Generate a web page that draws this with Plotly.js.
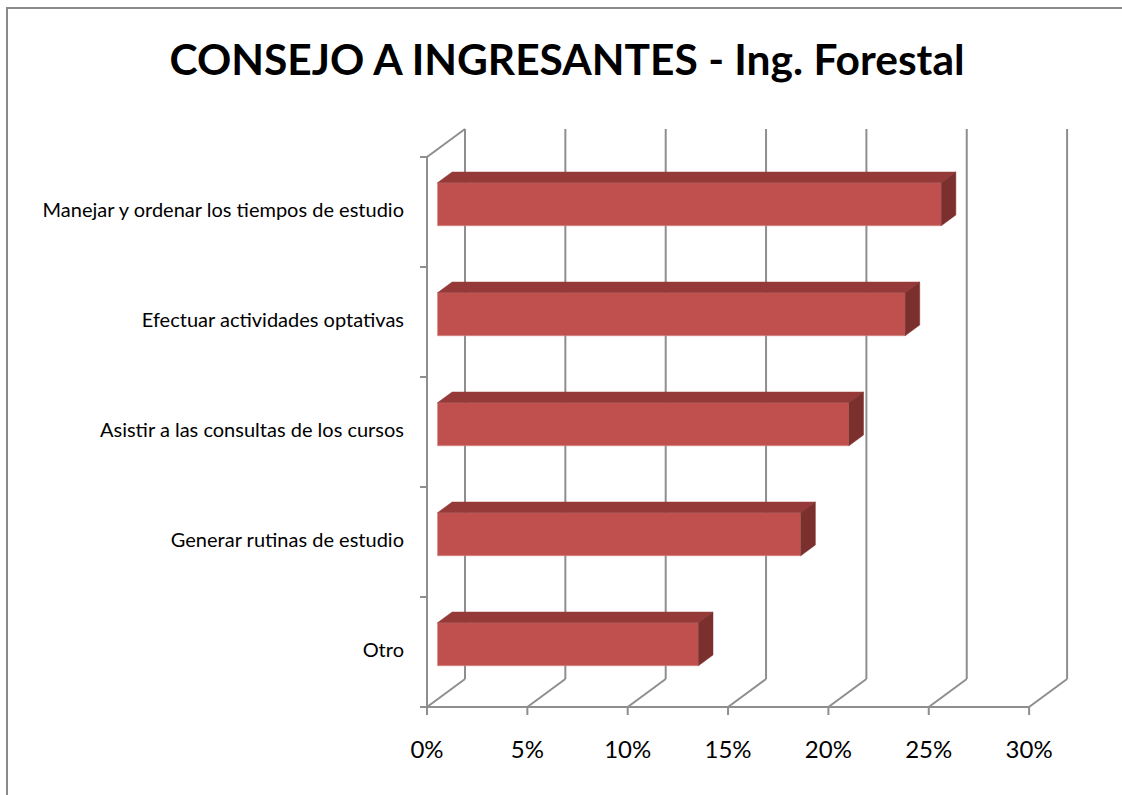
<!DOCTYPE html>
<html>
<head>
<meta charset="utf-8">
<script src="https://cdn.plot.ly/plotly-3.0.1.min.js"></script>
<style>html,body{margin:0;padding:0;background:#fff;}#chart{width:1122px;height:795px;}</style>
</head>
<body>
<div id="chart"></div>
<script>
// ---- data (bottom to top) ----
const categories = ["Otro", "Generar rutinas de estudio", "Asistir a las consultas de los cursos", "Efectuar actividades optativas", "Manejar y ordenar los tiempos de estudio"];
const values = [13.0, 18.1, 20.5, 23.3, 25.1];
const tickVals = [0, 5, 10, 15, 20, 25, 30];
const tickLabels = ["0%", "5%", "10%", "15%", "20%", "25%", "30%"];
const chartTitle = "CONSEJO A INGRESANTES - Ing. Forestal";

// ---- geometry of the oblique 3D frame (in axis units) ----
const PX_X = 20.07;            // px per 1% on front plane
const PX_Y = 110;              // px per category band
const DX = 38 / PX_X;          // full depth offset in x units
const DY = 28 / PX_Y;          // full depth offset in y units
const dFront = 0.276, dBack = 0.66; // bar depth planes
const barW = 43 / PX_Y;
const nCat = categories.length;
const xMax = tickVals[tickVals.length - 1];

const gridColor = '#8e8e8e';
const shapes = [];
function seg(x0, y0, x1, y1) {
  shapes.push({type: 'line', xref: 'x', yref: 'y', x0: x0, y0: y0, x1: x1, y1: y1,
    line: {color: gridColor, width: 2}, layer: 'below'});
}
// left wall
seg(0, 0, 0, nCat);
seg(0, nCat, DX, nCat + DY);
for (let i = 0; i <= nCat; i++) seg(-7 / PX_X, i, 0, i);
// floor and back grid
seg(0, 0, xMax, 0);
tickVals.forEach(t => {
  seg(t, 0, t + DX, DY);
  seg(t + DX, DY, t + DX, nCat + DY);
  seg(t, 0, t, -8 / PX_Y);
});
// chart border
shapes.push({type: 'rect', xref: 'paper', yref: 'paper', x0: 7 / 1122, x1: 1.02, y0: -0.02, y1: 1 - 8 / 795,
  line: {color: '#8a8a8a', width: 2}, fillcolor: 'rgba(0,0,0,0)', layer: 'below'});

// bar geometry
const yCenters = values.map((v, i) => i + 0.5 + dFront * DY);
const x0f = dFront * DX;
const ddx = (dBack - dFront) * DX, ddy = (dBack - dFront) * DY;
const topX = [], topY = [], sideX = [], sideY = [];
values.forEach((v, i) => {
  const yt = yCenters[i] + barW / 2, yb = yCenters[i] - barW / 2;
  const x1 = x0f + v;
  topX.push(x0f, x1, x1 + ddx, x0f + ddx, x0f, null);
  topY.push(yt, yt, yt + ddy, yt + ddy, yt, null);
  sideX.push(x1, x1, x1 + ddx, x1 + ddx, x1, null);
  sideY.push(yb, yt, yt + ddy, yb + ddy, yb, null);
});

const traces = [
  {type: 'bar', orientation: 'h', y: yCenters, x: values, base: x0f, width: barW,
   marker: {color: '#C0504D', line: {color: '#d98b89', width: 0.6}}, hoverinfo: 'skip', showlegend: false},
  {type: 'scatter', mode: 'lines', x: topX, y: topY, fill: 'toself', fillcolor: '#953a38',
   line: {color: '#953a38', width: 0.5}, hoverinfo: 'skip', showlegend: false},
  {type: 'scatter', mode: 'lines', x: sideX, y: sideY, fill: 'toself', fillcolor: '#7b302e',
   line: {color: '#7b302e', width: 0.5}, hoverinfo: 'skip', showlegend: false},
  {type: 'scatter', mode: 'text', x: categories.map(() => -23 / PX_X), y: categories.map((c, i) => i + 0.5),
   text: categories, textposition: 'middle left', cliponaxis: false,
   textfont: {family: 'Lato, Calibri, sans-serif', size: 20, color: '#000'}, hoverinfo: 'skip', showlegend: false},
  {type: 'scatter', mode: 'text', x: tickVals, y: tickVals.map(() => -45 / PX_Y),
   text: tickLabels, textposition: 'middle center', cliponaxis: false,
   textfont: {family: 'Lato, Calibri, sans-serif', size: 24, color: '#000'}, hoverinfo: 'skip', showlegend: false}
];

const layout = {
  width: 1122, height: 795,
  margin: {l: 0, r: 0, t: 0, b: 0},
  paper_bgcolor: '#fff', plot_bgcolor: '#fff',
  title: {text: '<b>' + chartTitle + '</b>', x: 567 / 1122, xanchor: 'center', y: 1 - 60 / 795, yanchor: 'middle',
    font: {family: 'Lato, Calibri, sans-serif', size: 42.5, color: '#000'}},
  xaxis: {range: [-427 / PX_X, (1122 - 427) / PX_X], visible: false, fixedrange: true},
  yaxis: {range: [-(795 - 707) / PX_Y, 707 / PX_Y], visible: false, fixedrange: true},
  shapes: shapes,
  showlegend: false
};

Plotly.newPlot('chart', traces, layout, {staticPlot: true, displayModeBar: false});
</script>
</body>
</html>
